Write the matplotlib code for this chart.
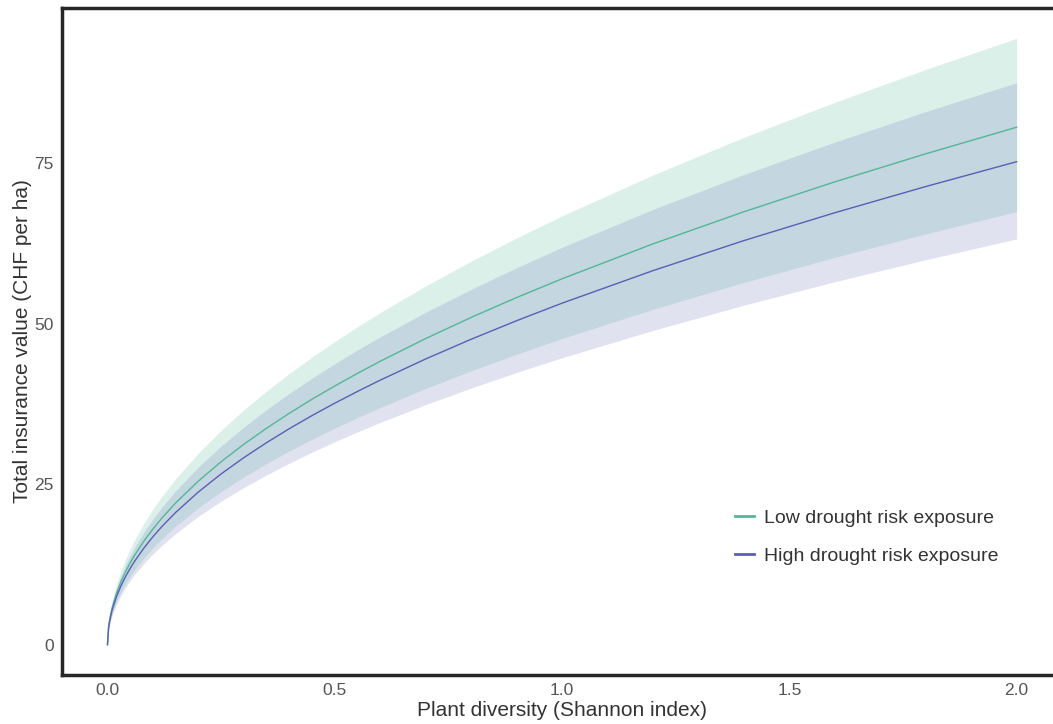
import matplotlib
matplotlib.use("Agg")
import matplotlib.pyplot as plt

# Plant diversity (Shannon index) sample points
shannon = [0, 0.0025, 0.005, 0.01, 0.02, 0.03, 0.04, 0.05, 0.06, 0.08, 0.1, 0.12, 0.15, 0.2,
           0.25, 0.3, 0.35, 0.4, 0.45, 0.5, 0.55, 0.6, 0.7, 0.8, 0.9, 1.0, 1.2, 1.4, 1.6,
           1.8, 2.0]

# Low drought risk exposure: mean and interval
low_mean = [0, 2.85, 4.03, 5.7, 8.06, 9.87, 11.4, 12.75, 13.96, 16.12, 18.02, 19.75, 22.08,
            25.49, 28.5, 31.22, 33.72, 36.05, 38.24, 40.3, 42.27, 44.15, 47.69, 50.98, 54.08,
            57.0, 62.44, 67.44, 72.1, 76.47, 80.61]
low_lo = [0, 2.39, 3.37, 4.77, 6.75, 8.26, 9.54, 10.67, 11.68, 13.49, 15.08, 16.52, 18.47,
          21.33, 23.85, 26.13, 28.22, 30.17, 32.0, 33.73, 35.37, 36.95, 39.91, 42.66, 45.25,
          47.7, 52.25, 56.44, 60.34, 63.99, 67.46]
low_hi = [0, 3.34, 4.72, 6.68, 9.45, 11.57, 13.36, 14.94, 16.36, 18.89, 21.12, 23.14, 25.87,
          29.87, 33.4, 36.59, 39.52, 42.25, 44.81, 47.23, 49.54, 51.74, 55.89, 59.75, 63.37,
          66.8, 73.17, 79.04, 84.5, 89.62, 94.47]

# High drought risk exposure: mean and interval
high_mean = [0, 2.66, 3.76, 5.32, 7.52, 9.21, 10.64, 11.9, 13.03, 15.04, 16.82, 18.43, 20.6,
             23.79, 26.6, 29.14, 31.47, 33.65, 35.69, 37.62, 39.45, 41.21, 44.51, 47.58, 50.47,
             53.2, 58.27, 62.95, 67.29, 71.37, 75.24]
high_lo = [0, 2.24, 3.16, 4.47, 6.32, 7.74, 8.94, 9.99, 10.95, 12.64, 14.14, 15.48, 17.31,
           19.99, 22.35, 24.48, 26.45, 28.27, 29.98, 31.61, 33.15, 34.62, 37.4, 39.98, 42.41,
           44.7, 48.96, 52.89, 56.54, 59.97, 63.21]
high_hi = [0, 3.1, 4.38, 6.19, 8.75, 10.72, 12.38, 13.84, 15.16, 17.51, 19.57, 21.44, 23.97,
           27.68, 30.95, 33.9, 36.62, 39.15, 41.52, 43.77, 45.91, 47.95, 51.79, 55.36, 58.72,
           61.9, 67.81, 73.24, 78.3, 83.05, 87.54]

labels = ["Low drought risk exposure", "High drought risk exposure"]
xticks = [0.0, 0.5, 1.0, 1.5, 2.0]
yticks = [0, 25, 50, 75]

plt.rcParams['font.family'] = ['Liberation Sans', 'DejaVu Sans']

c_low = '#52b797'
c_high = '#5a5fb5'

fig = plt.figure(figsize=(10.53, 7.24), dpi=100)
ax = fig.add_axes([0.0589, 0.0677, 0.9497, 0.9213])

ax.fill_between(shannon, low_lo, low_hi, color=c_low, alpha=0.2, linewidth=0)
ax.fill_between(shannon, high_lo, high_hi, color='#6470b4', alpha=0.2, linewidth=0)
ax.plot(shannon, low_mean, color=c_low, lw=1, label=labels[0])
ax.plot(shannon, high_mean, color=c_high, lw=1, label=labels[1])

ax.set_xticks(xticks)
ax.set_xticklabels([f"{t:.1f}" for t in xticks])
ax.set_yticks(yticks)
ax.tick_params(length=0, labelsize=12.5, labelcolor='#555555', pad=6)
ax.set_xlabel("Plant diversity (Shannon index)", fontsize=15, color='#333333', labelpad=2)
ax.set_ylabel("Total insurance value (CHF per ha)", fontsize=15, color='#333333', labelpad=2)

for s in ax.spines.values():
    s.set_linewidth(2.5)
    s.set_color('#262626')

leg = ax.legend(loc='center left', bbox_to_anchor=(0.655, 0.207), frameon=False,
                fontsize=14, handlelength=1.0, labelspacing=1.03, handletextpad=0.5,
                borderpad=0.4)
for t in leg.get_texts():
    t.set_color('#333333')
for h in leg.get_lines():
    h.set_linewidth(2)

fig.savefig("out.png", dpi=100)
